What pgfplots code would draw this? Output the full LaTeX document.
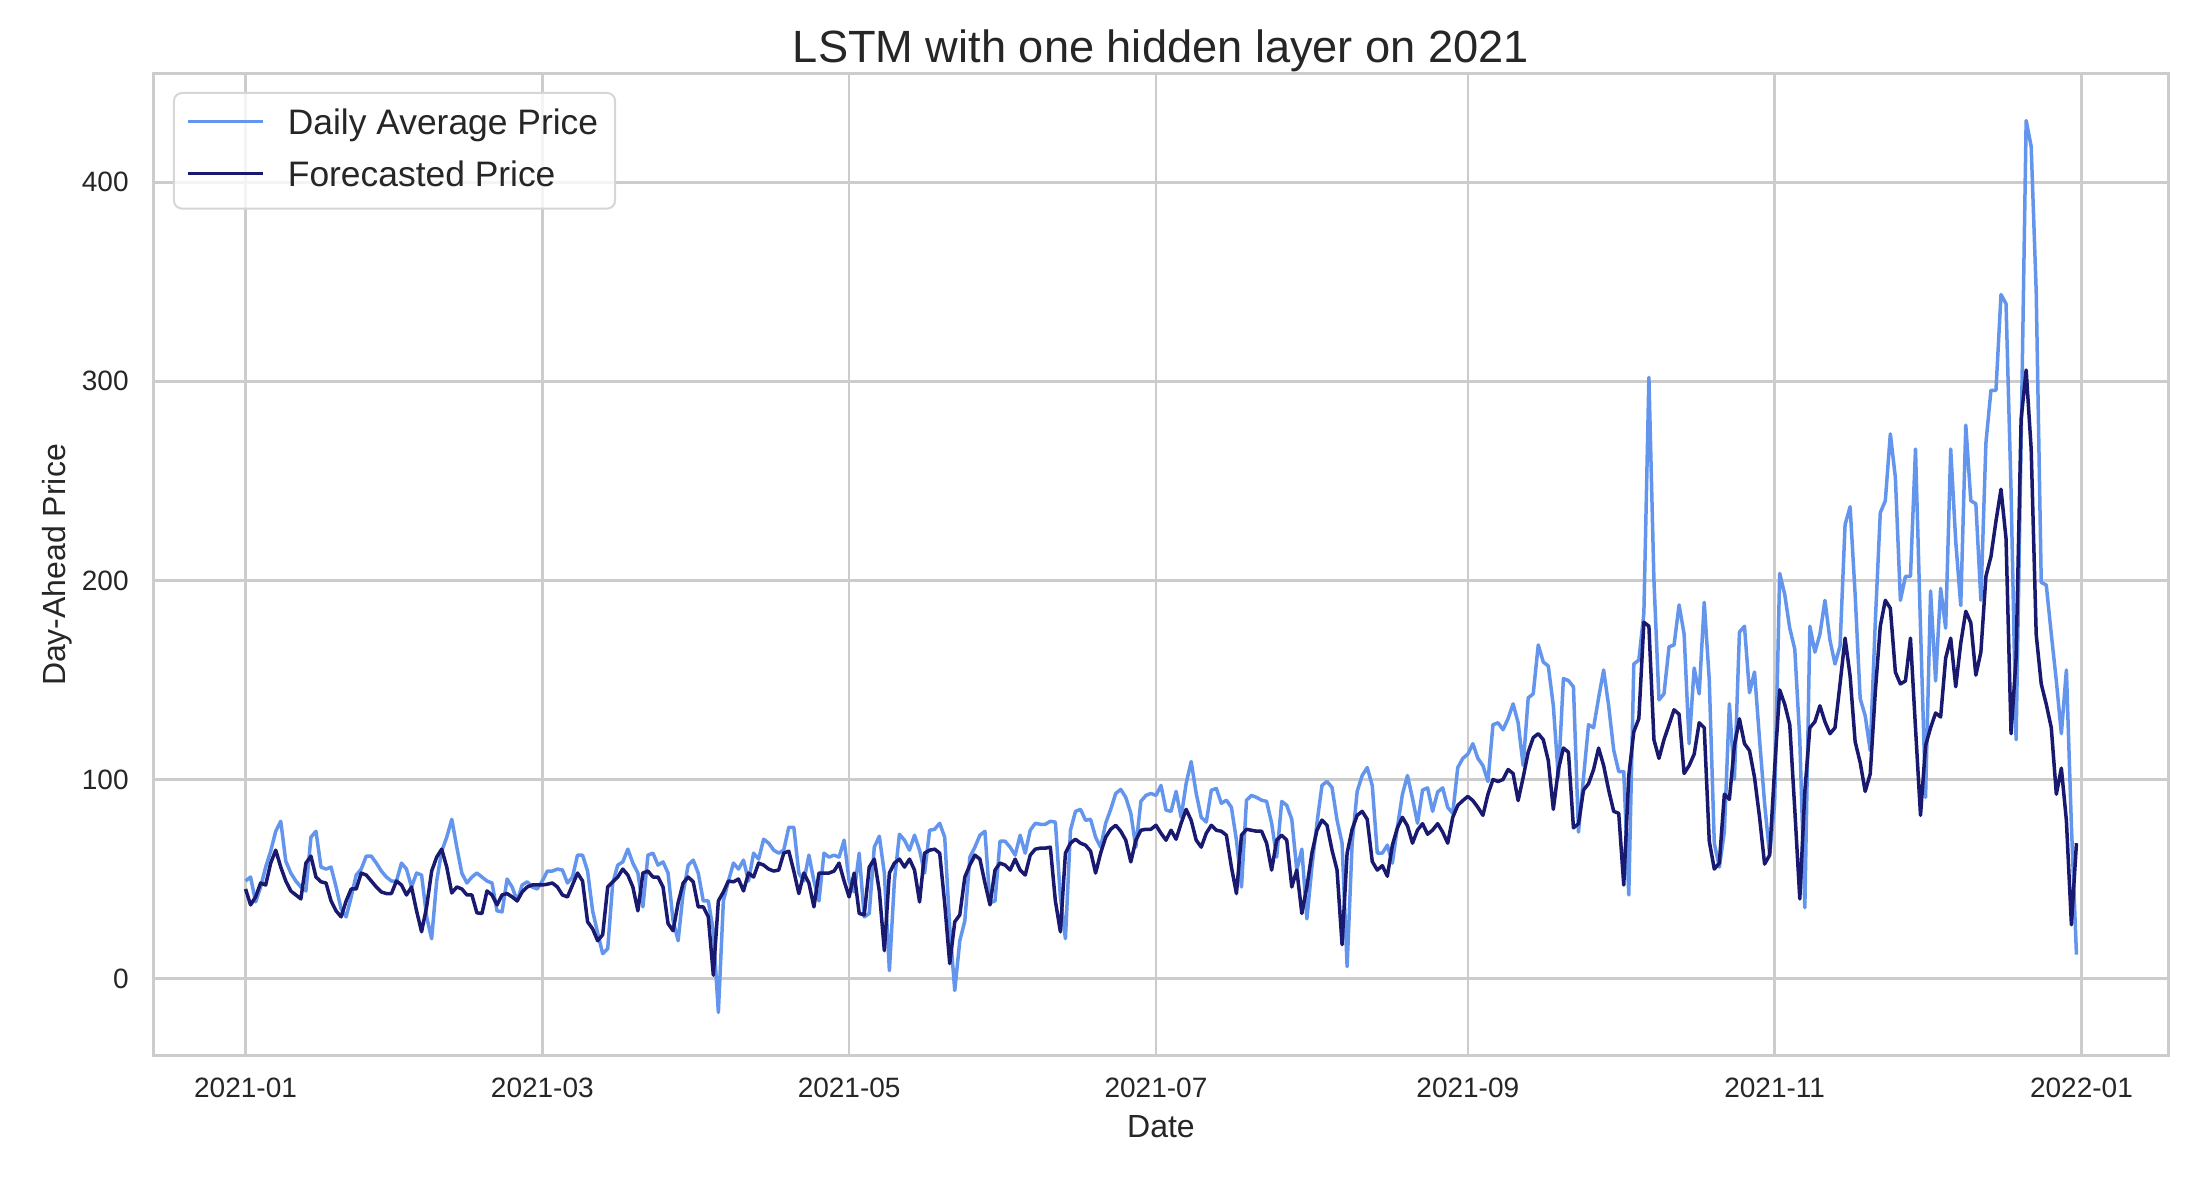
\documentclass[border=0pt]{standalone}
\usepackage{fontspec}
\setmainfont{Liberation Sans}
\usepackage{pgfplots}
\usepackage{pgfplotstable}
\pgfplotsset{compat=1.18}
\definecolor{actualc}{HTML}{6495ED}
\definecolor{forecastc}{HTML}{191970}
\definecolor{gridc}{HTML}{CCCCCC}
\definecolor{legendc}{HTML}{D6D6D6}
\definecolor{textc}{HTML}{262626}

% day 0 = 2021-01-01
\pgfplotstableread{
day price forecast
0 49 45
1 51 37
2 38.5 41
3 46 48
4 56 47
5 64 58
6 74 64.5
7 79 56
8 59 49
9 53 44
10 49 42
11 46 40
12 44 58
13 71 61.5
14 74 51
15 56 48.6
16 55 48
17 56 39
18 46 34
19 35 31
20 31 39
21 41 45
22 52 45
23 55 53
24 61.5 52
25 61.5 49
26 58 46
27 54 43.5
28 51 42.7
29 49 42.7
30 49 49
31 58 47
32 55 42
33 46 46
34 53 34
35 52 23.5
36 31 36
37 20 54
38 49 61
39 64 65
40 71 56
41 80 43
42 66 46
43 53 45
44 48 42
45 51 42
46 53 33
47 51 32.7
48 49 44
49 48 42
50 34 37
51 33.5 42
52 50 42.7
53 46 41
54 39 39
55 47 43.5
56 48.6 46
57 46 47
58 45 47
59 49 47
60 54 47.4
61 54 48
62 55 46
63 54.5 42
64 48 41
65 51 47
66 62 53
67 62 49
68 54 28.5
69 34 25
70 23 19
71 12.5 22
72 15 46
73 48 48.6
74 57 51
75 58.6 55
76 65 52
77 58 46
78 53 34
79 36 53
80 62 54
81 63 51
82 57 51
83 58.6 46
84 53 27.6
85 29 24
86 19 38
87 43 48
88 57 51
89 59.5 48.6
90 53 36
91 39 36
92 39 31
93 24 1.7
94 -17 39
95 39 43.5
96 49 49
97 58 48.6
98 55 50
99 59.5 44
100 49 53
101 63 51
102 60 58
103 70 57
104 68 55
105 64.5 54
106 63 54.5
107 64.5 63
108 76 64
109 76 54
110 53 42.7
111 49 53
112 62 48
113 49 36
114 39 53
115 63 53
116 61 53
117 62 54
118 61 58
119 69.5 49
120 49 41
121 43.5 53
122 63 32.7
123 31 32
124 32.7 56
125 66 60
126 71.5 44
127 53 14
128 4 53
129 49 58
130 72.5 60
131 69.5 56
132 64.5 60
133 72 54.5
134 64.5 38.5
135 53 63
136 74.5 64.5
137 75 65
138 78 63
139 71 37.7
140 26 7.5
141 -6 28.5
142 19 32
143 29 51
144 61 57
145 66 62
146 72 60
147 74 48
148 38 37
149 39 54.5
150 69 58
151 69 57
152 66 54.5
153 62 60
154 72 54.5
155 63 52
156 74.5 62
157 78 65
158 77.5 65.5
159 77.5 65.5
160 79 66
161 78.6 39
162 41 23.5
163 20 63
164 74.5 68
165 84 70
166 85 68
167 79.5 67
168 80 64
169 71 53
170 66 63
171 78 71
172 85 75
173 93 77
174 95 74
175 91 69.5
176 83 58.6
177 66 69.5
178 89 74.5
179 92 75
180 93 75
181 92 77
182 97 73
183 84.6 69.5
184 84 74.5
185 94 70
186 81 78
187 98 85
188 109 79.5
189 93 69.5
190 81 66
191 78.6 73
192 94.6 77
193 95.5 74.5
194 88 74
195 89.6 72
196 86 56
197 69.5 42.7
198 46 72
199 89.6 75
200 92 74.5
201 91 74
202 89.6 74
203 89 68
204 78 54.5
205 61 69.5
206 89 72
207 87 69.5
208 80 46
209 54.5 54.5
210 65 32.7
211 30 46
212 56 63
213 78 74.5
214 97 79.6
215 99 77
216 96 64.5
217 79.6 54.5
218 68 17
219 6 63
220 68 75
221 94 82
222 102 84
223 106 80
224 97 58.8
225 63 54.5
226 63 56.7
227 67 51.4
228 58 67
229 76 75.7
230 92.6 81
231 102 76.7
232 90.5 68
233 78 74.6
234 94.7 77.8
235 95.8 72.5
236 84 74.6
237 93.7 77.8
238 95.8 73.6
239 86 68
240 83 81
241 106 87
242 110.6 89.4
243 112.7 91.5
244 118 89.4
245 110.6 86
246 107 82
247 99 92.6
248 127.5 100
249 128.5 99
250 125 100
251 130.6 105
252 138 103
253 128.5 89.4
254 107 101
255 141 113.7
256 143 121
257 167.6 123
258 159 120
259 157 109.5
260 137 85
261 101 105
262 150.7 115.8
263 149.7 113.7
264 146.5 75.7
265 73.6 77.8
266 101 94.7
267 127.5 97.9
268 126 105
269 141 115.8
270 155 107
271 137 94.7
272 114.8 84
273 104 83
274 104 47
275 42 102
276 158 124
277 160 130.6
278 183.5 179
279 302 177
280 200 120
281 140 110.6
282 143 120
283 166.6 127.5
284 167.6 135
285 187.7 132.8
286 173 103
287 118 107
288 156 112.7
289 143 128.5
290 189 126
291 150 69
292 68 55
293 56 58
294 73.6 92.6
295 138 90
296 100 117
297 174 130.5
298 177 118
299 143.6 114.5
300 154 101
301 120 81
302 88 57.5
303 62 62
304 88 105.7
305 203.5 145
306 193 137.8
307 176 127.6
308 165.5 85
309 120 40
310 35.6 94
311 177 126
312 164 129
313 173 137
314 190 129
315 170 123
316 158 126
317 167 148
318 228 171
319 237 152
320 193 119
321 140.7 108.6
322 132 94
323 114.5 102.8
324 178.7 143.6
325 234 177
326 240 190
327 273.6 186
328 251.7 153.9
329 190 148
330 202 149.5
331 202 171
332 266 126
333 176 82
334 91 117
335 194.7 126
336 149.5 133.4
337 196 131.4
338 176 161
339 266 171
340 219.6 146.6
341 187.4 168.5
342 278 184.5
343 240 178.7
344 238.5 152.4
345 190 164
346 269 202
347 295.5 212
348 295.5 229.8
349 343.6 245.8
350 339 221
351 245 123
352 120 161
353 270 281
354 431 305.7
355 418 266
356 345 172.8
357 199 148
358 197.7 137.8
359 173 126
360 149.5 92.6
361 123 105.7
362 155 79.4
363 76.5 27
364 12 68
}\lstmdata

\begin{document}
\begin{tikzpicture}
\path[use as bounding box] (0,0) rectangle (1105pt,590.5pt);
\begin{axis}[
  at={(77pt,62.5pt)}, anchor=south west,
  scale only axis, width=1007pt, height=491pt,
  xmin=-18.2, xmax=382.2, ymin=-38.9, ymax=454.4,
  xtick={0,59,120,181,243,304,365},
  xticklabels={2021-01,2021-03,2021-05,2021-07,2021-09,2021-11,2022-01},
  ytick={0,100,200,300,400},
  major tick length=0pt,
  grid=major,
  grid style={gridc, line width=1.3pt},
  axis line style={gridc, line width=1.5pt},
  tick label style={font=\fontsize{14}{16}\selectfont, color=textc},
  /pgf/number format/assume math mode=true,
  xticklabel style={anchor=north, inner sep=0pt, yshift=-11pt},
  yticklabel style={anchor=east, inner sep=0pt, xshift=-12.5pt},
  title={LSTM with one hidden layer on 2021},
  title style={at={(0.5,1)}, anchor=base, yshift=-0.5pt, inner sep=0pt,
    font=\fontsize{22.6}{27}\selectfont, color=textc},
  xlabel={Date},
  xlabel style={at={(axis description cs:0.5,-0.0835)}, anchor=base,
    inner sep=0pt, font=\fontsize{16}{19}\selectfont, color=textc},
  ylabel={Day-Ahead Price},
  ylabel style={at={(axis description cs:-0.0438,0.5)}, anchor=base,
    inner sep=0pt, font=\fontsize{16}{19}\selectfont, color=textc},
  legend style={at={(axis description cs:0.00943,0.98167)}, anchor=north west,
    draw=legendc, line width=1pt, rounded corners=4pt,
    fill=white, fill opacity=0.8, text opacity=1,
    inner xsep=6pt, inner ysep=7.7pt, row sep=9.6pt,
    font=\fontsize{17.7}{21}\selectfont, text=textc,
    nodes={inner sep=0pt, text height=12.9pt, text depth=3.5pt},
    cells={anchor=base west},
    /tikz/every odd column/.append style={column sep=11.7pt}},
  legend image code/.code={\draw[#1, line width=1.75pt] (0pt,6.3pt) -- (37.5pt,6.3pt);},
]
\addplot[actualc, line width=1.75pt, line join=round] table[x=day, y=price] {\lstmdata};
\addlegendentry{Daily Average Price\hspace*{2.5pt}}
\addplot[forecastc, line width=1.75pt, line join=round] table[x=day, y=forecast] {\lstmdata};
\addlegendentry{Forecasted Price}
\end{axis}
\end{tikzpicture}
\end{document}
